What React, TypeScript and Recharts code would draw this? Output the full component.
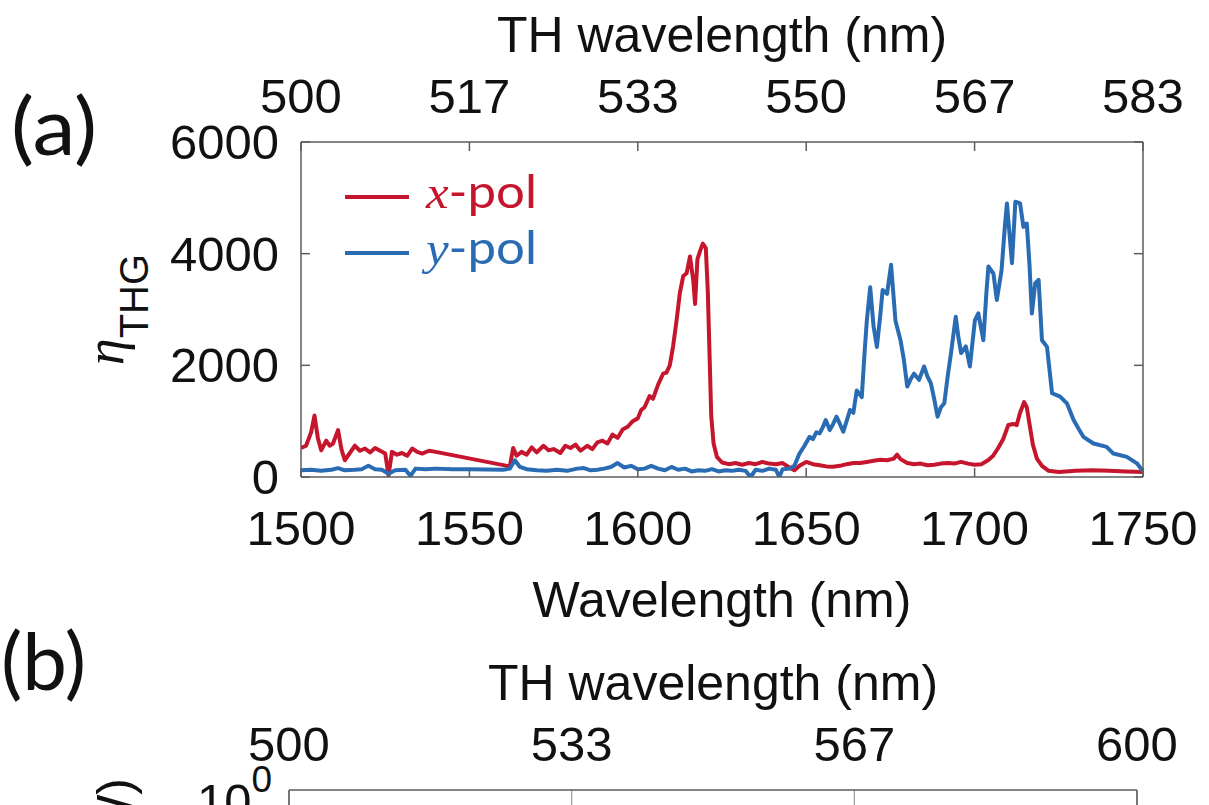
import React from 'react';
import { LineChart, Line, XAxis, YAxis, Label, Legend, CartesianGrid } from 'recharts';

// ---------- data: panel (a) ----------
const xpolWavelength = [
  1500, 1501.5, 1503, 1504, 1505, 1506, 1507.5, 1508.5, 1509.5, 1511, 1512, 1513, 1514.5, 1516, 1517.5,
  1519, 1520.5, 1522, 1523.5, 1525, 1526, 1527, 1528.5, 1530, 1531.5, 1533, 1534.5, 1536, 1538, 1540,
  1562, 1563, 1564, 1565.5, 1567, 1568.5, 1570, 1572, 1573.5, 1575, 1577, 1578.5, 1580, 1581.5, 1583,
  1585, 1586.5, 1588, 1589.5, 1591, 1592.5, 1594, 1595.5, 1597, 1598.5, 1600, 1601, 1602, 1603.5, 1604.5,
  1606, 1607.5, 1608.5, 1609.5, 1610.5, 1611.5, 1612.5, 1613.5, 1614.5, 1615.5, 1616.5, 1617, 1617.7, 1618.5,
  1619.3, 1620.2, 1620.8, 1621.3, 1621.8, 1622.5, 1623.5, 1625, 1627, 1629, 1631, 1633, 1635, 1637, 1639,
  1641, 1643, 1645, 1646.5, 1648, 1650, 1652, 1654, 1656, 1658, 1660, 1662, 1664, 1666, 1668, 1670, 1672,
  1674, 1676, 1677, 1678, 1680, 1682, 1684, 1686, 1688, 1690, 1692, 1694, 1696, 1698, 1700, 1702, 1704,
  1705.5, 1707, 1708.5, 1710, 1711.5, 1712.5, 1713.5, 1714.7, 1715.5, 1716.3, 1717.3, 1718.5, 1720, 1722,
  1725, 1730, 1735, 1740, 1745, 1750,
];
const xpolValue = [
  520, 560, 800, 1100, 700, 480, 650, 560, 600, 840, 500, 300, 430, 560, 470,
  510, 440, 520, 470, 420, 30, 450, 400, 430, 380, 510, 450, 420, 470, 450,
  190, 520, 380, 450, 400, 530, 440, 560, 480, 500, 430, 560, 520, 580, 470,
  560, 500, 620, 650, 600, 760, 700, 850, 900, 1000, 1050, 1200, 1250, 1450, 1400,
  1650, 1850, 1870, 2000, 2350, 2800, 3300, 3600, 3650, 3950, 3500, 3100, 3900, 4050,
  4180, 4100, 3300, 2200, 1100, 600, 360, 260, 230, 250, 220, 250, 230, 270, 240,
  230, 250, 170, 120, 200, 270, 230, 210, 190, 185, 200, 230, 250, 250, 270, 290, 310,
  300, 330, 400, 320, 250, 230, 240, 210, 220, 240, 250, 240, 270, 240, 220, 230, 300,
  380, 520, 680, 930, 950, 930, 1150, 1340, 1250, 950, 580, 330, 200, 110,
  90, 110, 120, 110, 100, 90,
];
const ypolWavelength = [
  1500, 1503, 1506, 1509, 1511, 1513, 1516, 1518, 1520, 1522, 1524, 1526, 1528, 1531, 1532.5,
  1534, 1537, 1540, 1545, 1550, 1555, 1560, 1562, 1563.5, 1565, 1567, 1570, 1573, 1576, 1579,
  1582, 1584, 1586, 1588, 1590, 1592, 1594, 1596, 1598, 1600, 1602, 1604, 1606, 1608, 1610,
  1612, 1614, 1616, 1618, 1620, 1622, 1624, 1626, 1628, 1630, 1632, 1633.5, 1635, 1637, 1639,
  1641, 1642, 1643, 1645, 1646.5, 1648, 1649.5, 1651, 1652, 1653, 1654, 1655, 1655.8, 1657, 1658,
  1659, 1660, 1661, 1662, 1663, 1664, 1665, 1666.5, 1667.3, 1668, 1669, 1670, 1671, 1672, 1672.7,
  1674, 1675.2, 1676.5, 1678, 1679, 1680, 1681, 1682, 1683.5, 1685, 1686, 1687, 1688, 1689, 1690,
  1691, 1692, 1693, 1694.4, 1695.2, 1696, 1697.4, 1698.6, 1700.1, 1701.1, 1702.6, 1703.5, 1704.1, 1705.6, 1706.6,
  1708, 1709, 1709.6, 1710.3, 1711.1, 1712.1, 1713.5, 1714.5, 1715.5, 1716.3, 1717, 1718, 1719, 1720, 1721.5,
  1723, 1725.4, 1727.4, 1729.4, 1731, 1732.3, 1735.3, 1739.2, 1741.2, 1745.2, 1748.2, 1750,
];
const ypolValue = [
  120, 130, 110, 130, 160, 120, 130, 140, 200, 140, 130, 60, 120, 130, 20,
  150, 140, 150, 140, 140, 135, 130, 150, 300, 180, 140, 120, 110, 130, 110,
  150, 160, 120, 130, 150, 180, 250, 170, 200, 140, 150, 200, 150, 120, 180,
  130, 150, 100, 120, 110, 140, 100, 120, 110, 130, 110, 0, 130, 110, 150,
  130, 0, 140, 150, 200, 420, 560, 720, 680, 800, 780, 900, 1020, 840, 950,
  1080, 950, 810, 1000, 1200, 1150, 1550, 1430, 2200, 2800, 3400, 2700, 2330, 2900, 3350,
  3280, 3800, 2800, 2450, 2100, 1620, 1750, 1850, 1740, 1980, 1800, 1680, 1400, 1080, 1250,
  1320, 1800, 2220, 2870, 2500, 2220, 2340, 1980, 2810, 2930, 2450, 3300, 3770, 3640, 3170,
  3700, 4500, 4900, 4400, 3830, 4930, 4900, 4480, 4540, 3800, 2930, 3470, 3530, 2450, 2330,
  1500, 1440, 1320, 1020, 850, 720, 600, 540, 420, 360, 245, 100,
];
const seriesNames = ['x-pol', 'y-pol'];

// ---------- axes ----------
const bottomTicksA = [1500, 1550, 1600, 1650, 1700, 1750];
const topTickLabelsA = ['500', '517', '533', '550', '567', '583'];
const yTicksA = [0, 2000, 4000, 6000];
const topTicksB = [1500, 1600, 1700, 1800];
const topTickLabelsB = ['500', '533', '567', '600'];
const yTicksB = [1];
const yTickExpB = ['0'];

const RED = '#c5162e';
const BLUE = '#2a6cb4';
const FRAME = '#5c5c5c';
const INK = '#111111';
const SANS = '"Liberation Sans", Arial, Helvetica, sans-serif';
const HUMAN = 'Lato, "Open Sans", sans-serif';
const SERIF = '"Liberation Serif", "DejaVu Serif", serif';
const TICK_FS = 49;
const TITLE_FS = 50;
const TL = 9;

const BottomTick = (p: any) => (
  <g>
    <line x1={p.x} y1={p.y} x2={p.x} y2={p.y - TL} stroke={FRAME} strokeWidth={1.5} />
    <text x={p.x} y={p.y + 68} textAnchor="middle" fontSize={TICK_FS} fontFamily={SANS} fill={INK}>
      {p.payload.value}
    </text>
  </g>
);
const makeTopTick = (labels: string[], tl: number) => (p: any) => (
  <g>
    {tl > 0 ? <line x1={p.x} y1={p.y} x2={p.x} y2={p.y + tl} stroke={FRAME} strokeWidth={1.5} /> : null}
    <text x={p.x} y={p.y - 29} textAnchor="middle" fontSize={TICK_FS} fontFamily={SANS} fill={INK}>
      {labels[p.index]}
    </text>
  </g>
);
const TopTickA = makeTopTick(topTickLabelsA, TL);
const TopTickB = makeTopTick(topTickLabelsB, 0);
const LeftTickA = (p: any) => (
  <g>
    <line x1={p.x} y1={p.y} x2={p.x + TL} y2={p.y} stroke={FRAME} strokeWidth={1.5} />
    <text x={p.x - 22} y={p.y + 17} textAnchor="end" fontSize={TICK_FS} fontFamily={SANS} fill={INK}>
      {p.payload.value}
    </text>
  </g>
);
const RightTickA = (p: any) => (
  <line x1={p.x} y1={p.y} x2={p.x - TL} y2={p.y} stroke={FRAME} strokeWidth={1.5} />
);
const LeftTickB = (p: any) => (
  <text x={p.x - 17} y={p.y + 28} textAnchor="end" fontSize={TICK_FS} fontFamily={SANS} fill={INK}>
    <tspan>10</tspan>
    <tspan dy={-26} fontSize={37}>{yTickExpB[p.index]}</tspan>
  </text>
);

const TopTitle = (p: any) => {
  const vb = p.viewBox || { x: 0, y: 0, width: 0, height: 0 };
  return (
    <text x={vb.x + vb.width / 2} y={vb.y + vb.height - 90} textAnchor="middle" fontSize={TITLE_FS} fontFamily={SANS} fill={INK}>
      TH wavelength (nm)
    </text>
  );
};
const BottomTitle = (p: any) => {
  const vb = p.viewBox || { x: 0, y: 0, width: 0, height: 0 };
  return (
    <text x={vb.x + vb.width / 2} y={vb.y + 140} textAnchor="middle" fontSize={TITLE_FS} fontFamily={SANS} fill={INK}>
      Wavelength (nm)
    </text>
  );
};
const YTitleA = (p: any) => {
  const vb = p.viewBox || { x: 0, y: 0, width: 0, height: 0 };
  const bx = vb.x + 123;
  const cy = vb.y + vb.height / 2;
  return (
    <text transform={`rotate(-90 ${bx} ${cy})`} x={bx} y={cy} textAnchor="middle" fill={INK}>
      <tspan fontFamily={SERIF} fontStyle="italic" fontSize={54}>η</tspan>
      <tspan fontFamily={SANS} fontSize={40} dy={25}>THG</tspan>
    </text>
  );
};
const YTitleB = (p: any) => {
  const vb = p.viewBox || { x: 0, y: 0, width: 0, height: 0 };
  const bx = vb.x + 132;
  const ty = vb.y - 12;
  return (
    <text transform={`rotate(-90 ${bx} ${ty})`} x={bx} y={ty} textAnchor="end" fontSize={TITLE_FS} fontFamily={SANS} fill={INK}>
      (W)
    </text>
  );
};

const LegendBox = (p: any) => {
  const items = (p.payload || []) as any[];
  return (
    <svg width={240} height={115} style={{ display: 'block', overflow: 'visible' }}>
      {items.map((it, i) => {
        const ly = 32 + i * 56;
        const name = String(it.value);
        return (
          <g key={name}>
            <line x1={15} y1={ly} x2={79} y2={ly} stroke={it.color} strokeWidth={4} />
            <text x={96} y={ly + 11} fill={it.color} fontSize={46} textLength={111} lengthAdjust="spacingAndGlyphs">
              <tspan fontFamily={SERIF} fontStyle="italic">{name.charAt(0)}</tspan>
              <tspan fontFamily={HUMAN}>{name.slice(1)}</tspan>
            </text>
          </g>
        );
      })}
    </svg>
  );
};

export default function App() {
  const xData = xpolWavelength.map((w, i) => ({ w, v: xpolValue[i] }));
  const yData = ypolWavelength.map((w, i) => ({ w, v: ypolValue[i] }));
  const bData = topTicksB.map((w) => ({ w, v: null as number | null }));
  const axisLine = { stroke: FRAME, strokeWidth: 1.5 };
  return (
    <div style={{ position: 'absolute', left: 0, top: 0, width: 1209, height: 805, overflow: 'hidden', background: '#fff' }}>
      <div style={{ position: 'absolute', left: 0, top: 0 }}>
        <LineChart width={1209} height={640} margin={{ top: 0, right: 56, bottom: 23, left: 0 }}>
          <XAxis xAxisId="b" dataKey="w" type="number" domain={[1500, 1750]} ticks={bottomTicksA} interval={0}
            orientation="bottom" height={140} tickSize={0} tickMargin={0} tickLine={false} axisLine={axisLine}
            tick={BottomTick} allowDataOverflow>
            <Label content={BottomTitle} />
          </XAxis>
          <XAxis xAxisId="t" dataKey="w" type="number" domain={[1500, 1750]} ticks={bottomTicksA} interval={0}
            orientation="top" height={142} tickSize={0} tickMargin={0} tickLine={false} axisLine={axisLine}
            tick={TopTickA} allowDataOverflow>
            <Label content={TopTitle} />
          </XAxis>
          <YAxis yAxisId="l" type="number" domain={[0, 6000]} ticks={yTicksA} interval={0} width={301}
            tickSize={0} tickMargin={0} tickLine={false} axisLine={axisLine} tick={LeftTickA} allowDataOverflow>
            <Label content={YTitleA} />
          </YAxis>
          <YAxis yAxisId="r" orientation="right" type="number" domain={[0, 6000]} ticks={yTicksA} interval={0} width={10}
            tickSize={0} tickMargin={0} tickLine={false} axisLine={axisLine} tick={RightTickA} allowDataOverflow />
          <Legend layout="vertical" align="center" verticalAlign="middle" content={LegendBox}
            wrapperStyle={{ left: 330, top: 165, width: 240, height: 115 }} />
          <Line data={xData} dataKey="v" name={seriesNames[0]} xAxisId="b" yAxisId="l" type="linear" stroke={RED}
            strokeWidth={4} dot={false} activeDot={false} isAnimationActive={false} strokeLinejoin="round" />
          <Line data={yData} dataKey="v" name={seriesNames[1]} xAxisId="b" yAxisId="l" type="linear" stroke={BLUE}
            strokeWidth={4} dot={false} activeDot={false} isAnimationActive={false} strokeLinejoin="round" />
        </LineChart>
      </div>
      <div style={{ position: 'absolute', left: 0, top: 600 }}>
        <LineChart width={1209} height={400} data={bData} margin={{ top: 0, right: 62, bottom: 20, left: 0 }}>
          <CartesianGrid xAxisId="t" yAxisId="l" horizontal={false} stroke="#9a9a9a" strokeWidth={1.2} />
          <XAxis xAxisId="t" dataKey="w" type="number" domain={[1500, 1800]} ticks={topTicksB} interval={0}
            orientation="top" height={190} tickSize={0} tickMargin={0} tickLine={false} axisLine={axisLine}
            tick={TopTickB} allowDataOverflow>
            <Label content={TopTitle} />
          </XAxis>
          <YAxis yAxisId="l" type="number" scale="log" domain={[1e-4, 1]} ticks={yTicksB} interval={0} width={289}
            tickSize={0} tickMargin={0} tickLine={false} axisLine={axisLine} tick={LeftTickB} allowDataOverflow>
            <Label content={YTitleB} />
          </YAxis>
          <YAxis yAxisId="r" orientation="right" type="number" scale="log" domain={[1e-4, 1]} ticks={yTicksB} width={10}
            tickSize={0} tickMargin={0} tickLine={false} axisLine={axisLine} tick={false} allowDataOverflow />
          <Line dataKey="v" xAxisId="t" yAxisId="l" stroke={BLUE} dot={false} activeDot={false} isAnimationActive={false} legendType="none" />
        </LineChart>
      </div>
      <svg width={1209} height={805} style={{ position: 'absolute', left: 0, top: 0, pointerEvents: 'none' }}>
        <text x={11} y={155} fontFamily={HUMAN} fontSize={80} fill={INK} textLength={86} lengthAdjust="spacingAndGlyphs">(a)</text>
        <text x={1} y={690} fontFamily={HUMAN} fontSize={80} fill={INK} textLength={85} lengthAdjust="spacingAndGlyphs">(b)</text>
      </svg>
    </div>
  );
}
